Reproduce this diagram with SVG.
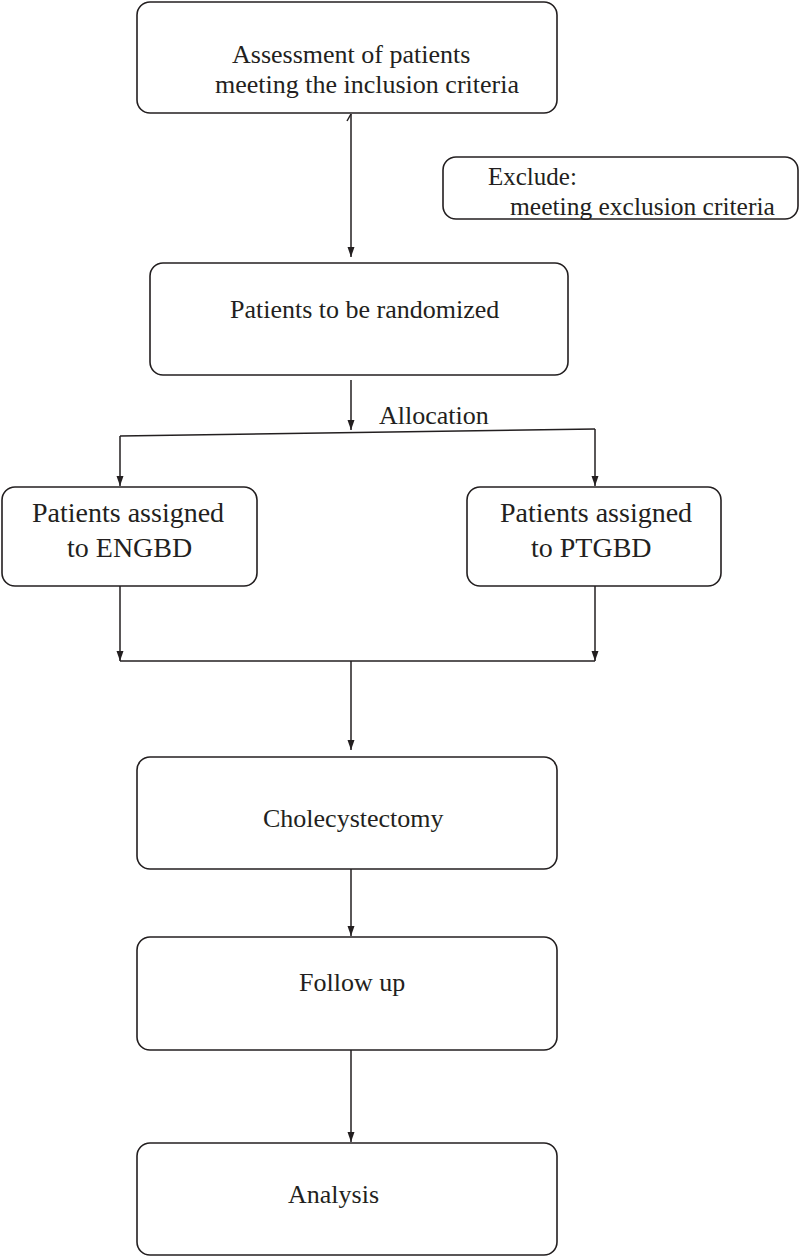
<svg xmlns="http://www.w3.org/2000/svg" width="800" height="1256" viewBox="0 0 800 1256">
<style>
.box{fill:#fff;stroke:#231f20;stroke-width:1.6}
.t{font-family:"Liberation Serif","Times New Roman",serif;fill:#231f20;font-size:26px}
.conn{fill:none;stroke:#231f20;stroke-width:1.5}
</style>
<defs>
<marker id="ah" markerUnits="userSpaceOnUse" markerWidth="10" markerHeight="8" refX="10" refY="4" orient="auto">
<path d="M0,0.5 L10,4 L0,7.5 z" fill="#231f20"/>
</marker>
</defs>
<rect width="800" height="1256" fill="#fff"/>
<g id="connectors">
<line class="conn" x1="351" y1="114" x2="351" y2="257" marker-end="url(#ah)"/>
<path class="conn" d="M347,121 L351,114"/>
<line class="conn" x1="351" y1="380" x2="351" y2="430" marker-end="url(#ah)"/>
<path class="conn" d="M120,436 L595,429"/>
<line class="conn" x1="120" y1="436" x2="120" y2="486" marker-end="url(#ah)"/>
<line class="conn" x1="595" y1="429" x2="595" y2="486" marker-end="url(#ah)"/>
<line class="conn" x1="120" y1="586" x2="120" y2="661" marker-end="url(#ah)"/>
<line class="conn" x1="595" y1="586" x2="595" y2="661" marker-end="url(#ah)"/>
<line class="conn" x1="120" y1="661" x2="595" y2="661"/>
<line class="conn" x1="351" y1="661" x2="351" y2="750" marker-end="url(#ah)"/>
<line class="conn" x1="351" y1="869" x2="351" y2="936" marker-end="url(#ah)"/>
<line class="conn" x1="351" y1="1050" x2="351" y2="1142" marker-end="url(#ah)"/>
<text class="t" x="379" y="424">Allocation</text>
</g>
<g id="assessment">
<rect class="box" x="137" y="2" width="420" height="111" rx="13"/>
<text class="t" x="232" y="63">Assessment of patients</text>
<text class="t" x="215" y="93">meeting the inclusion criteria</text>
</g>
<g id="exclude">
<rect class="box" x="443" y="157" width="355" height="62" rx="13"/>
<text class="t" x="488" y="185" style="font-size:25px">Exclude:</text>
<text class="t" x="510" y="215" style="font-size:25.5px">meeting exclusion criteria</text>
</g>
<g id="randomized">
<rect class="box" x="150" y="263" width="418" height="112" rx="13"/>
<text class="t" x="230" y="318">Patients to be randomized</text>
</g>
<g id="engbd">
<rect class="box" x="2" y="487" width="255" height="99" rx="13"/>
<text class="t" x="32" y="522" style="font-size:28px">Patients assigned</text>
<text class="t" x="67" y="557" style="font-size:28px">to ENGBD</text>
</g>
<g id="ptgbd">
<rect class="box" x="467" y="487" width="254" height="99" rx="13"/>
<text class="t" x="500" y="522" style="font-size:28px">Patients assigned</text>
<text class="t" x="531" y="557" style="font-size:28px">to PTGBD</text>
</g>
<g id="cholecystectomy">
<rect class="box" x="137" y="757" width="420" height="112" rx="13"/>
<text class="t" x="263" y="827">Cholecystectomy</text>
</g>
<g id="followup">
<rect class="box" x="137" y="937" width="420" height="113" rx="13"/>
<text class="t" x="299" y="991">Follow up</text>
</g>
<g id="analysis">
<rect class="box" x="137" y="1143" width="420" height="112" rx="13"/>
<text class="t" x="288" y="1203">Analysis</text>
</g>
</svg>
